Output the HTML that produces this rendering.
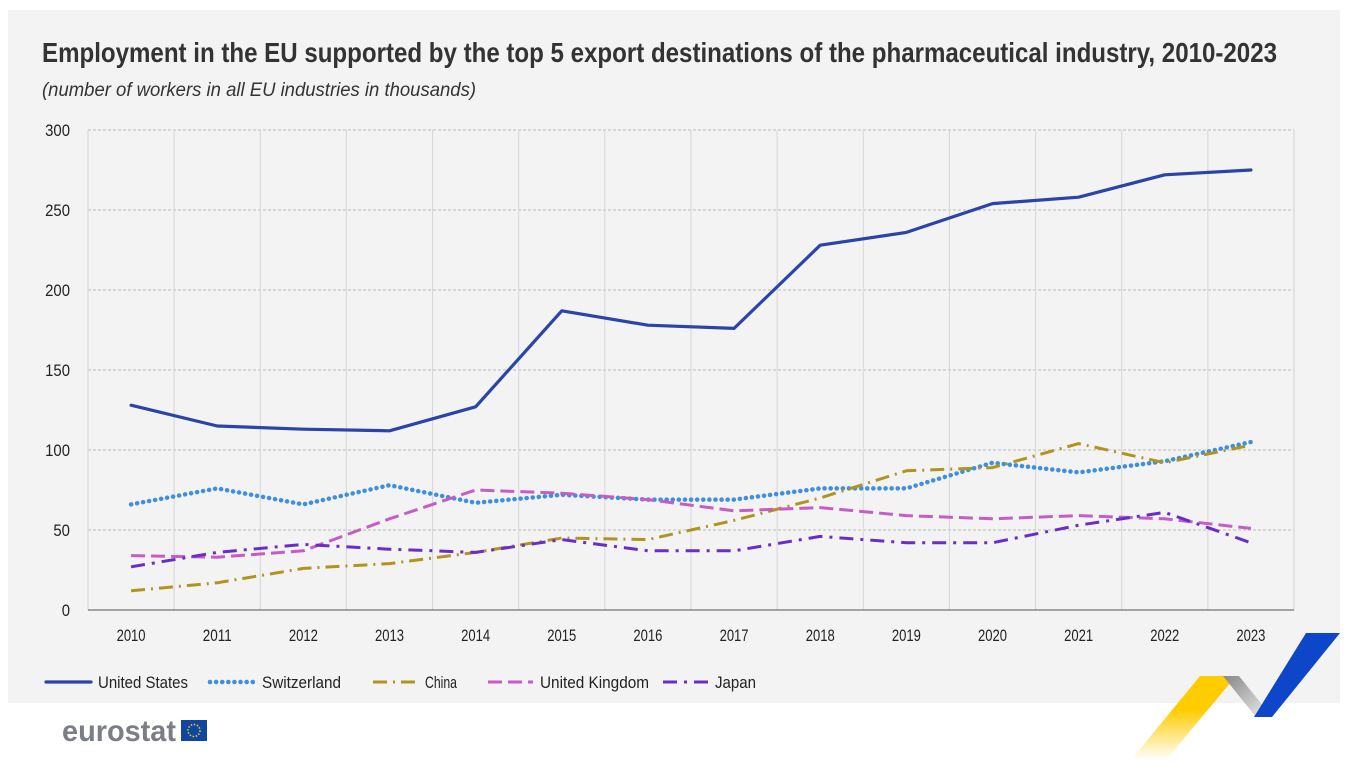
<!DOCTYPE html>
<html><head><meta charset="utf-8"><style>
body{margin:0;width:1351px;height:771px;background:#fff;overflow:hidden;font-family:"Liberation Sans Narrow","Liberation Sans",sans-serif;}
</style></head><body>
<svg width="1351" height="771" xmlns="http://www.w3.org/2000/svg">
<defs>
<linearGradient id="yg" x1="0" y1="1" x2="0" y2="0"><stop offset="0" stop-color="#ffcc00" stop-opacity="0"/><stop offset="0.6" stop-color="#ffcc00"/></linearGradient>
<linearGradient id="gg" x1="0" y1="0" x2="1" y2="1"><stop offset="0" stop-color="#888"/><stop offset="1" stop-color="#eee"/></linearGradient>
</defs>
<rect x="8" y="10" width="1332" height="693" fill="#f3f3f3"/>
<text x="42" y="62" font-size="28" font-weight="bold" fill="#333" textLength="1235" lengthAdjust="spacingAndGlyphs">Employment in the EU supported by the top 5 export destinations of the pharmaceutical industry, 2010-2023</text>
<text x="42" y="96" font-size="19" font-style="italic" fill="#333" textLength="434" lengthAdjust="spacingAndGlyphs">(number of workers in all EU industries in thousands)</text>
<g id="grid"></g><g id="series"></g><g id="legend"></g>
<g>
<text x="62" y="741" font-size="30" font-weight="bold" fill="#7b7e86" font-family="Liberation Sans,sans-serif" textLength="114" lengthAdjust="spacingAndGlyphs">eurostat</text>
<rect x="181" y="720" width="26" height="21" fill="#0e47a1"/>
<circle cx="194" cy="730.5" r="6" fill="none" stroke="#ffcc00" stroke-width="1.5" stroke-dasharray="1.5 1.6"/>
</g>
<g>
<polygon points="1131,760 1200,676 1236,676 1166,760" fill="url(#yg)"/>
<polygon points="1223,676 1239,676 1272,717 1256,717" fill="url(#gg)"/>
<polygon points="1254,717 1306,633 1340,633 1272,717" fill="#0d46c8"/>
</g>
</svg>
<script>
const years=["2010","2011","2012","2013","2014","2015","2016","2017","2018","2019","2020","2021","2022","2023"];
const yTicks=[0,50,100,150,200,250,300];
const usValues=[128,115,113,112,127,187,178,176,228,236,254,258,272,275];
const chValues=[66,76,66,78,67,72,69,69,76,76,92,86,93,105];
const cnValues=[12,17,26,29,36,45,44,56,70,87,89,104,92,103];
const ukValues=[34,33,37,57,75,73,69,62,64,59,57,59,57,51];
const jpValues=[27,36,41,38,36,44,37,37,46,42,42,53,61,42];
const seriesNames=["United States","Switzerland","China","United Kingdom","Japan"];
const NS="http://www.w3.org/2000/svg";
const L=88,R=1294,T=130,B=610,step=(R-L)/years.length;
const xs=i=>L+step*(i+0.5);
const ys=v=>B-(v/300)*(B-T);
function mk(tag,attrs,parent){const e=document.createElementNS(NS,tag);for(const k in attrs)e.setAttribute(k,attrs[k]);parent.appendChild(e);return e;}
const grid=document.getElementById('grid');
yTicks.forEach(v=>{
 if(v>0){const g=mk('line',{x1:L,x2:R,y1:ys(v),y2:ys(v),stroke:'#bbb','stroke-dasharray':'3 2'},grid);
 
 }
 const s=String(v);
 const t=mk('text',{x:70,y:ys(v)+6,'text-anchor':'end','font-size':17,fill:'#222',textLength:s.length*8.3,lengthAdjust:'spacingAndGlyphs'},grid);t.textContent=s;
 
 
});
for(let i=0;i<=years.length;i++){const x=L+step*i;const g=mk('line',{x1:x,x2:x,y1:T,y2:B,stroke:'#d6d6d6'},grid);
 
 }
const ax=mk('line',{x1:L,x2:R,y1:B,y2:B,stroke:'#555'},grid);


years.forEach((y,i)=>{const t=mk('text',{x:xs(i),y:641,'text-anchor':'middle','font-size':17,fill:'#222',textLength:29,lengthAdjust:'spacingAndGlyphs'},grid);t.textContent=y;
 
 });
const styles=[
 {c:'#2a44a8',d:'',cap:'round',w:3.2},
 {c:'#3d8fe0',d:'0.1 6',cap:'round',w:4.5},
 {c:'#b09420',d:'14 6 2 6',cap:'butt',w:3},
 {c:'#c45ec4',d:'14 6',cap:'butt',w:3},
 {c:'#6a2ec8',d:'14 7 3 7',cap:'butt',w:3}];
const data=[usValues,chValues,cnValues,ukValues,jpValues];
const sg=document.getElementById('series');
data.forEach((vals,k)=>{const s=styles[k];
 const p=mk('polyline',{points:vals.map((v,i)=>xs(i)+','+ys(v)).join(' '),fill:'none',stroke:s.c,'stroke-width':s.w,'stroke-dasharray':s.d,'stroke-linecap':s.cap,'stroke-linejoin':'round'},sg);
 
 });
const lg=document.getElementById('legend');
const lx=[46,210,373,488,663];
const lw=[90,79,32,109,41];
seriesNames.forEach((n,k)=>{const s=styles[k];const g=mk('g',{},lg);
 
 
 mk('line',{x1:lx[k],x2:lx[k]+45,y1:682,y2:682,stroke:s.c,'stroke-width':s.w,'stroke-dasharray':s.d,'stroke-linecap':s.cap},g);
 const t=mk('text',{x:lx[k]+52,y:688,'font-size':17,fill:'#222',textLength:lw[k],lengthAdjust:'spacingAndGlyphs'},g);t.textContent=n;});
</script>
</body></html>
